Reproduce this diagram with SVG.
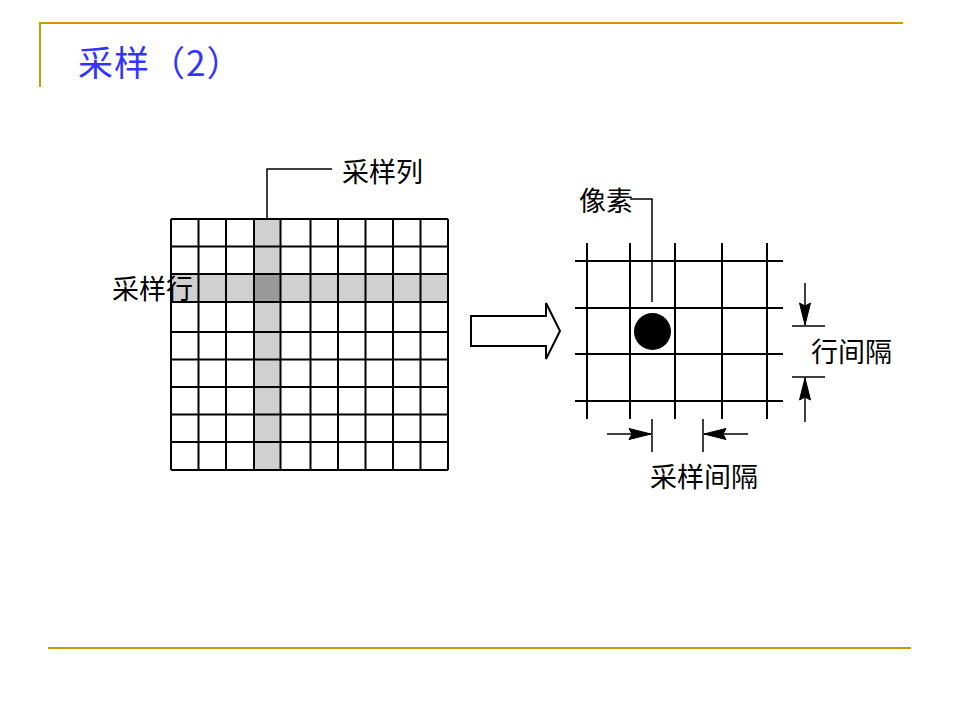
<svg xmlns="http://www.w3.org/2000/svg" width="960" height="720" viewBox="0 0 960 720">
<style>
.gold{stroke:#CC9900;stroke-width:2;fill:none}
.ln{stroke:#000;stroke-width:2;fill:none}
.thin{stroke:#000;stroke-width:1.5;fill:none}
.lbl{font-family:"Noto Sans CJK SC","Noto Sans",sans-serif;font-size:27px;fill:#000}
.title{font-family:"Noto Sans CJK SC","Noto Sans",sans-serif;font-size:35px;letter-spacing:1px;fill:#3333FF}
</style>
<defs>
<marker id="ah" viewBox="-24 -7 26 14" refX="0" refY="0" markerWidth="26" markerHeight="14" markerUnits="userSpaceOnUse" orient="auto">
<path d="M0,0 L-22,-5.5 L-19,0 L-22,5.5 Z" fill="#000" stroke="#000" stroke-width="1"/>
</marker>
</defs>
<rect width="960" height="720" fill="#fff"/>
<g id="frame">
<path class="gold" d="M40,87 V23 H903"/>
<path class="gold" d="M48,648 H911"/>
</g>
<g id="title"><text class="title" x="78" y="76">采样（2）</text></g>

<g id="left-grid">
<rect x="254" y="219" width="26.5" height="251" fill="#D0D0D0"/>
<rect x="171" y="274" width="277" height="28" fill="#D0D0D0"/>
<rect x="254" y="274" width="26.5" height="28" fill="#999"/>
<path class="ln" d="M171,219 H448 M171,246.5 H448 M171,274 H448 M171,302 H448 M171,332 H448 M171,359.5 H448 M171,387 H448 M171,414.5 H448 M171,442 H448 M171,470 H448"/>
<path class="ln" d="M171,219 V470 M198.5,219 V470 M226,219 V470 M254,219 V470 M280.5,219 V470 M310.5,219 V470 M338,219 V470 M365.5,219 V470 M393,219 V470 M420.5,219 V470 M448,219 V470"/>
</g>
<g id="label-col">
<path class="thin" d="M267,219 V169 H332"/>
<text class="lbl" x="342" y="182">采样列</text>
</g>
<g id="label-row"><text class="lbl" x="112" y="299">采样行</text></g>

<g id="big-arrow">
<path d="M471,316 H546 V303 L560,331 L546,359 V346 H471 Z" fill="#fff" stroke="#000" stroke-width="2"/>
</g>

<g id="right-grid">
<path class="ln" d="M575,261 H783 M575,308 H783 M575,354 H783 M575,401 H783"/>
<path class="ln" d="M587,243 V419 M630,243 V419 M675,243 V419 M722,243 V419 M767,243 V419"/>
</g>
<g id="pixel">
<circle cx="652.5" cy="331.5" r="18.5" fill="#000"/>
<path class="thin" d="M652,302 V199 H630"/>
<text class="lbl" x="579" y="211">像素</text>
</g>

<g id="connectors">
<path class="thin" d="M792,326 H825 M792,377 H825"/>
<path class="thin" d="M805,283 V325" marker-end="url(#ah)"/>
<path class="thin" d="M805,422 V378" marker-end="url(#ah)"/>
<path class="thin" d="M652,419 V452 M703,419 V452"/>
<path class="thin" d="M607,434 H651" marker-end="url(#ah)"/>
<path class="thin" d="M748,434 H704" marker-end="url(#ah)"/>
</g>
<g id="label-rowgap"><text class="lbl" x="811" y="362">行间隔</text></g>
<g id="label-sampgap"><text class="lbl" x="650" y="487">采样间隔</text></g>
</svg>
